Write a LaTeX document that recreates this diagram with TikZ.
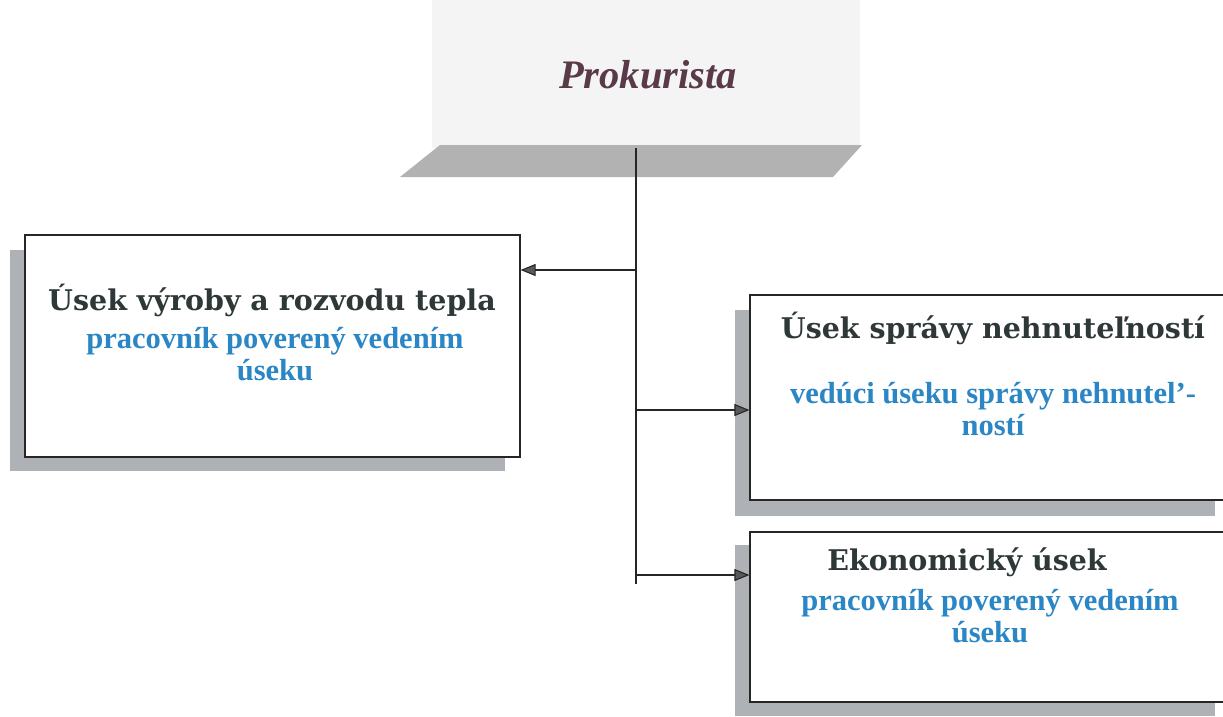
\documentclass[tikz,border=0pt]{standalone}
\usepackage{fontspec}
\setmainfont{Liberation Serif}
\newfontfamily\headfont{DejaVu Serif}
\usetikzlibrary{arrows.meta,calc}
\definecolor{headc}{HTML}{2F3838}
\definecolor{bluec}{HTML}{2A86C4}
\definecolor{prokc}{HTML}{5A3A48}
\definecolor{shadowc}{HTML}{AEB1B6}
\definecolor{topbg}{HTML}{F4F4F4}
\definecolor{barc}{HTML}{B2B2B2}
\tikzset{
  box/.style={draw=black!85, line width=1.2pt, fill=white, inner sep=0pt},
  headtxt/.style={font=\headfont\bfseries\fontsize{28.5}{32}\selectfont, text=headc, inner sep=0pt},
  bluetxt/.style={font=\bfseries\fontsize{30.5}{32}\selectfont, text=bluec, align=center, inner sep=0pt},
  conn/.style={draw=black!85, line width=1.1pt},
  arr/.style={conn, -{Triangle[length=15pt,width=12pt,fill=black!65]}},
}
\begin{document}
\begin{tikzpicture}[x=1pt,y=-1pt]
\useasboundingbox (0,0) rectangle (1223,716);
% top area
\fill[topbg] (432,0) rectangle (860,148);
\node[font=\bfseries\itshape\fontsize{40.5}{44}\selectfont, text=prokc] (prok) at (648,75) {Prokurista};
\fill[barc] (400,177) -- (440,145) -- (862,145) -- (833,177) -- cycle;
\coordinate (top) at (636,148);
% box 1
\fill[shadowc] (10,250) rectangle (505,471);
\node[box, minimum width=495pt, minimum height=222pt] (b1) at (272.5,346) {};
\node[headtxt] (t1) at (272,300) {Úsek výroby a rozvodu tepla};
\node[bluetxt] (s1) at (275,354) {pracovník poverený vedením\\úseku};
% box 2
\fill[shadowc] (735,310) rectangle (1215,516);
\node[box, minimum width=480pt, minimum height=205pt] (b2) at (990,397.5) {};
\node[headtxt] (t2) at (993,328) {Úsek správy nehnuteľností};
\node[bluetxt] (s2) at (993,409) {vedúci úseku správy nehnutel’-\\ností};
% box 3
\fill[shadowc] (735,545) rectangle (1215,716);
\node[box, minimum width=480pt, minimum height=170pt] (b3) at (990,617) {};
\node[headtxt] (t3) at (967,562) {Ekonomický úsek};
\node[bluetxt] (s3) at (990,616) {pracovník poverený vedením\\úseku};
% connectors
\coordinate (j1) at (636,270);
\coordinate (j2) at (636,410);
\coordinate (j3) at (636,575);
\coordinate (bot) at (636,584);
\draw[conn] (top) -- (bot);
\draw[arr] (j1) -- (j1 -| b1.east);
\draw[arr] (j2) -- (j2 -| b2.west);
\draw[arr] (j3) -- (j3 -| b3.west);
\end{tikzpicture}
\end{document}
